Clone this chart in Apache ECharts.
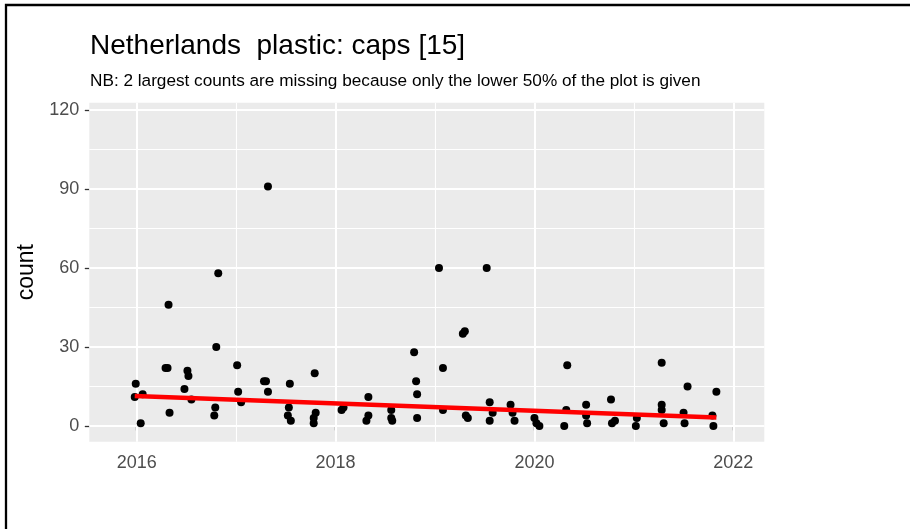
<!DOCTYPE html>
<html>
<head>
<meta charset="utf-8">
<script src="https://cdn.jsdelivr.net/npm/echarts@6/dist/echarts.min.js"></script>
<style>
  html, body { margin: 0; padding: 0; background: #ffffff; }
  #chart { width: 910px; height: 529px; }
</style>
</head>
<body>
<div id="chart"></div>
<script>
// Survey dates as decimal years, with the number of caps counted on each survey
const surveyYears = [
  2015.98, 2015.99, 2016.06, 2016.04, 2016.29, 2016.31, 2016.32, 2016.33,
  2016.48, 2016.51, 2016.52, 2016.55, 2016.78, 2016.79, 2016.80, 2016.82,
  2017.01, 2017.02, 2017.05, 2017.28, 2017.30, 2017.32, 2017.32,
  2017.52, 2017.53, 2017.54, 2017.55, 2017.78, 2017.78, 2017.79, 2017.80,
  2018.06, 2018.08, 2018.31, 2018.33, 2018.33, 2018.56, 2018.56, 2018.57,
  2018.79, 2018.81, 2018.82, 2018.82, 2019.04, 2019.08, 2019.08,
  2019.28, 2019.30, 2019.31, 2019.33, 2019.52, 2019.55, 2019.58, 2019.55,
  2019.76, 2019.78, 2019.80, 2020.00, 2020.02, 2020.05,
  2020.30, 2020.32, 2020.33, 2020.52, 2020.52, 2020.53,
  2020.77, 2020.78, 2020.81, 2021.02, 2021.03,
  2021.28, 2021.28, 2021.28, 2021.30, 2021.50, 2021.51, 2021.54,
  2021.79, 2021.80, 2021.83
];
const capCounts = [
  11, 16, 12, 1, 22, 22, 46, 5,
  14, 21, 19, 10, 4, 7, 30, 58,
  23, 13, 9, 17, 17, 13, 91,
  4, 7, 16, 2, 1, 3, 20, 5,
  6, 7, 2, 4, 11, 6, 3, 2,
  28, 17, 12, 3, 60, 22, 6,
  35, 36, 4, 3, 60, 9, 5, 2,
  8, 5, 2, 3, 1, 0,
  0, 6, 23, 8, 4, 1,
  10, 1, 2, 0, 3,
  24, 8, 6, 1, 5, 1, 15,
  4, 0, 13
];

// Linear trend (start and end of the fitted line)
const trendYears = [2015.98, 2021.83];
const trendCounts = [11.4, 3.2];

// Axis ticks and background grid lines
const xTickYears = [2016, 2018, 2020, 2022];
const xMinorYears = [2017, 2019, 2021];
const yTicks = [0, 30, 60, 90, 120];
const yMinorTicks = [15, 45, 75, 105];

const xRange = [2015.523, 2022.312];
const yRange = [-6, 122.8];

const points = surveyYears.map((yr, i) => [yr, capCounts[i]]);
const trend = trendYears.map((yr, i) => [yr, trendCounts[i]]);

const gridLineData = []
  .concat(xTickYears.map(v => ({ xAxis: v, lineStyle: { width: 2 } })))
  .concat(xMinorYears.map(v => ({ xAxis: v, lineStyle: { width: 1.1 } })))
  .concat(yTicks.map(v => ({ yAxis: v, lineStyle: { width: 2 } })))
  .concat(yMinorTicks.map(v => ({ yAxis: v, lineStyle: { width: 1.1 } })));

const chart = echarts.init(document.getElementById('chart'), null, { renderer: 'canvas' });

chart.setOption({
  animation: false,
  backgroundColor: '#ffffff',
  textStyle: { fontFamily: 'Liberation Sans, Arial, sans-serif' },
  title: [
    {
      text: 'Netherlands  plastic: caps [15]',
      left: 90,
      top: 32,
      padding: 0,
      textStyle: { fontSize: 28, fontWeight: 'normal', color: '#000000' }
    },
    {
      text: 'NB: 2 largest counts are missing because only the lower 50% of the plot is given',
      left: 90,
      top: 73,
      padding: 0,
      textStyle: { fontSize: 17.2, fontWeight: 'normal', color: '#000000' }
    }
  ],
  graphic: [
    {
      type: 'rect',
      silent: true,
      shape: { x: 6, y: 5, width: 960, height: 600 },
      style: { fill: 'none', stroke: '#000000', lineWidth: 2.3 }
    }
  ],
  grid: {
    left: 89.3,
    top: 102.7,
    right: 145.7,
    bottom: 87.3,
    show: true,
    backgroundColor: '#EBEBEB',
    borderWidth: 0
  },
  xAxis: {
    type: 'value',
    min: xRange[0],
    max: xRange[1],
    splitLine: { show: false },
    axisLine: { show: false },
    axisTick: {
      show: true,
      length: 4.5,
      customValues: xTickYears,
      lineStyle: { color: '#333333', width: 1.3 }
    },
    axisLabel: {
      customValues: xTickYears,
      margin: 12,
      fontSize: 18,
      color: '#4D4D4D',
      formatter: v => String(Math.round(v))
    }
  },
  yAxis: {
    type: 'value',
    min: yRange[0],
    max: yRange[1],
    name: 'count',
    nameLocation: 'middle',
    nameGap: 44,
    nameTextStyle: { fontSize: 23, color: '#000000' },
    splitLine: { show: false },
    axisLine: { show: false },
    axisTick: {
      show: true,
      length: 4.5,
      customValues: yTicks,
      lineStyle: { color: '#333333', width: 1.3 }
    },
    axisLabel: {
      customValues: yTicks,
      margin: 10,
      fontSize: 18,
      color: '#4D4D4D'
    }
  },
  series: [
    {
      name: 'grid',
      type: 'line',
      data: [],
      z: 1,
      silent: true,
      markLine: {
        silent: true,
        z: 1,
        symbol: ['none', 'none'],
        label: { show: false },
        lineStyle: { color: '#ffffff', type: 'solid' },
        data: gridLineData
      }
    },
    {
      name: 'count',
      type: 'scatter',
      data: points,
      symbol: 'circle',
      symbolSize: 8,
      itemStyle: { color: '#000000', opacity: 1 },
      z: 3
    },
    {
      name: 'trend',
      type: 'line',
      data: trend,
      showSymbol: false,
      symbol: 'none',
      lineStyle: { color: '#FF0000', width: 4.5 },
      z: 4
    }
  ]
});
</script>
</body>
</html>
